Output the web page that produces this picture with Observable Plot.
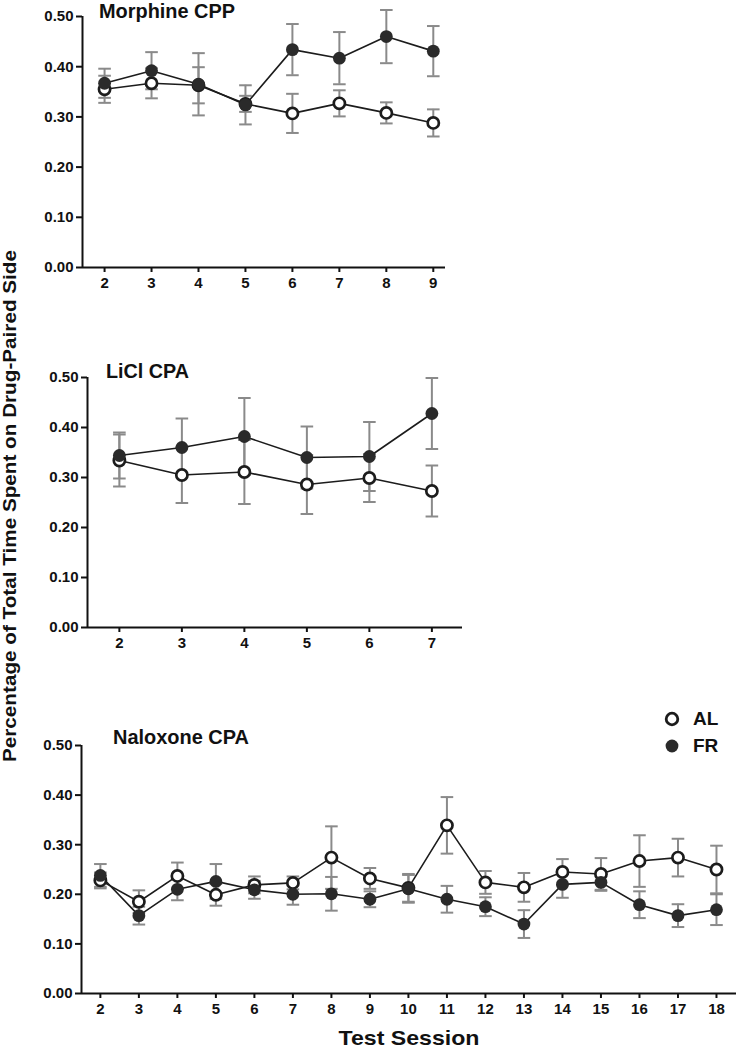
<!DOCTYPE html>
<html>
<head>
<meta charset="utf-8">
<script src="https://cdn.jsdelivr.net/npm/d3@7"></script>
<script src="https://cdn.jsdelivr.net/npm/@observablehq/plot@0.6"></script>
<style>
  html, body { margin: 0; padding: 0; background: #fff; }
  #wrap { position: relative; width: 737px; height: 1050px; overflow: hidden; font-family: "Liberation Sans", Arial, Helvetica, sans-serif; font-weight: bold; color: #111; }
  .panel { position: absolute; left: 0; }
</style>
</head>
<body>
<div id="wrap"></div>
<script>
// ---------------- data ----------------
const morphSessions = [2, 3, 4, 5, 6, 7, 8, 9];
const morphAL    = [0.355, 0.367, 0.363, 0.326, 0.307, 0.327, 0.308, 0.288];
const morphALsem = [0.027, 0.030, 0.036, 0.016, 0.039, 0.026, 0.021, 0.027];
const morphFR    = [0.367, 0.392, 0.365, 0.324, 0.434, 0.417, 0.460, 0.431];
const morphFRsem = [0.029, 0.037, 0.062, 0.039, 0.051, 0.052, 0.053, 0.050];

const liclSessions = [2, 3, 4, 5, 6, 7];
const liclAL    = [0.334, 0.305, 0.311, 0.286, 0.299, 0.273];
const liclALsem = [0.052, 0.056, 0.064, 0.059, 0.048, 0.051];
const liclFR    = [0.344, 0.360, 0.382, 0.340, 0.342, 0.428];
const liclFRsem = [0.046, 0.058, 0.077, 0.062, 0.069, 0.071];

const naloxSessions = [2, 3, 4, 5, 6, 7, 8, 9, 10, 11, 12, 13, 14, 15, 16, 17, 18];
const naloxAL    = [0.228, 0.185, 0.237, 0.199, 0.219, 0.223, 0.274, 0.232, 0.213, 0.339, 0.224, 0.214, 0.245, 0.241, 0.267, 0.274, 0.250];
const naloxALsem = [0.016, 0.023, 0.027, 0.022, 0.017, 0.013, 0.063, 0.021, 0.028, 0.057, 0.023, 0.029, 0.026, 0.032, 0.052, 0.038, 0.048];
const naloxFR    = [0.238, 0.157, 0.210, 0.226, 0.209, 0.200, 0.201, 0.190, 0.211, 0.190, 0.175, 0.140, 0.220, 0.224, 0.179, 0.157, 0.169];
const naloxFRsem = [0.023, 0.018, 0.022, 0.035, 0.018, 0.021, 0.034, 0.016, 0.028, 0.027, 0.019, 0.028, 0.027, 0.017, 0.027, 0.023, 0.031];

const yTicks = [0, 0.1, 0.2, 0.3, 0.4, 0.5];
const panelTitles = ["Morphine CPP", "LiCl CPA", "Naloxone CPA"];
const groups = ["AL", "FR"];
const yAxisTitle = "Percentage of Total Time Spent on Drug-Paired Side";
const xAxisTitle = "Test Session";

// ---------------- styling ----------------
const FONT = '"Liberation Sans", Arial, Helvetica, sans-serif';
const INK = "#1c1c1c";
const ERR = "#8a8a8a";
const capSymbol = {
  draw(ctx, size) {
    const w = Math.sqrt(size / Math.PI);
    ctx.moveTo(-w, 0);
    ctx.lineTo(w, 0);
  }
};

function rows(sessions, vals, sems) {
  return sessions.map((s, i) => ({ s, v: vals[i], e: sems[i] }));
}

function panel(cfg) {
  const al = rows(cfg.sessions, cfg.al, cfg.alSem);
  const fr = rows(cfg.sessions, cfg.fr, cfg.frSem);
  const errMarks = (data) => [
    Plot.ruleX(data, { x: "s", y1: d => d.v - d.e, y2: d => d.v + d.e, stroke: ERR, strokeWidth: 2 }),
    Plot.dot(data, { x: "s", y: d => d.v + d.e, symbol: capSymbol, r: 6.3, stroke: ERR, strokeWidth: 2, fill: "none" }),
    Plot.dot(data, { x: "s", y: d => d.v - d.e, symbol: capSymbol, r: 6.3, stroke: ERR, strokeWidth: 2, fill: "none" })
  ];
  return Plot.plot({
    width: cfg.width,
    height: cfg.height,
    marginLeft: cfg.ml,
    marginRight: cfg.mr,
    marginTop: cfg.mt,
    marginBottom: cfg.mb,
    style: { fontFamily: FONT, fontSize: "15px", fontWeight: "bold", color: "#111", background: "transparent", overflow: "visible" },
    x: { domain: cfg.xDomain },
    y: { domain: [0, 0.5] },
    marks: [
      ...errMarks(fr),
      ...errMarks(al),
      Plot.line(al, { x: "s", y: "v", stroke: INK, strokeWidth: 1.6 }),
      Plot.line(fr, { x: "s", y: "v", stroke: INK, strokeWidth: 1.6 }),
      Plot.dot(al, { x: "s", y: "v", r: 5.6, fill: "#fff", stroke: INK, strokeWidth: 2.7 }),
      Plot.dot(fr, { x: "s", y: "v", r: 6.4, fill: "#2a2a2a", stroke: "none" }),
      Plot.axisY({ ticks: yTicks, tickFormat: d3.format(".2f"), tickSize: 6, strokeWidth: 2, tickPadding: 3, label: null }),
      Plot.axisX({ ticks: cfg.sessions, tickFormat: d3.format("d"), tickSize: 5, strokeWidth: 2, tickPadding: 5, label: null }),
      Plot.ruleY([0], { stroke: "#111", strokeWidth: 2 }),
      Plot.ruleX([cfg.xDomain[0]], { stroke: "#111", strokeWidth: 2 })
    ]
  });
}

const wrap = document.getElementById("wrap");
function place(el, top) {
  el.classList.add("panel");
  el.style.top = top + "px";
  wrap.appendChild(el);
}

place(panel({ sessions: morphSessions, al: morphAL, alSem: morphALsem, fr: morphFR, frSem: morphFRsem,
  xDomain: [1.53, 9.26], width: 460, height: 297, ml: 82, mr: 15, mt: 16, mb: 30 }), 0);
place(panel({ sessions: liclSessions, al: liclAL, alSem: liclALsem, fr: liclFR, frSem: liclFRsem,
  xDomain: [1.49, 7.49], width: 480, height: 297, ml: 87, mr: 18, mt: 17, mb: 30 }), 360);
place(panel({ sessions: naloxSessions, al: naloxAL, alSem: naloxALsem, fr: naloxFR, frSem: naloxFRsem,
  xDomain: [1.51, 18.52], width: 737, height: 296, ml: 81, mr: 1, mt: 20, mb: 28 }), 725);

// ---------------- text overlay (titles, axis titles, legend) ----------------
const NS = "http://www.w3.org/2000/svg";
const ov = document.createElementNS(NS, "svg");
ov.setAttribute("width", 737);
ov.setAttribute("height", 1050);
ov.style.position = "absolute";
ov.style.left = "0px";
ov.style.top = "0px";
ov.style.pointerEvents = "none";
ov.setAttribute("font-family", FONT);
ov.setAttribute("font-weight", "bold");
ov.setAttribute("fill", "#111");

function addText(str, attrs) {
  const t = document.createElementNS(NS, "text");
  for (const k in attrs) t.setAttribute(k, attrs[k]);
  t.textContent = str;
  ov.appendChild(t);
  return t;
}

// panel titles: [x, baseline, length]
const titleGeom = [[99, 18, 136], [106, 378, 83], [113, 744, 136]];
panelTitles.forEach((t, i) => {
  const [x, y, len] = titleGeom[i];
  addText(t, { x, y, "font-size": 19.5, textLength: len, lengthAdjust: "spacingAndGlyphs" });
});

// y axis title (rotated)
addText(yAxisTitle, { transform: "translate(15.5,506) rotate(-90)", "text-anchor": "middle", "font-size": 18, textLength: 512, lengthAdjust: "spacingAndGlyphs" });

// x axis title
addText(xAxisTitle, { x: 409, y: 1045, "text-anchor": "middle", "font-size": 21, textLength: 141, lengthAdjust: "spacingAndGlyphs" });

// legend
const c1 = document.createElementNS(NS, "circle");
c1.setAttribute("cx", 672); c1.setAttribute("cy", 719); c1.setAttribute("r", 5.8);
c1.setAttribute("fill", "#fff"); c1.setAttribute("stroke", INK); c1.setAttribute("stroke-width", 2.8);
ov.appendChild(c1);
const c2 = document.createElementNS(NS, "circle");
c2.setAttribute("cx", 672); c2.setAttribute("cy", 746); c2.setAttribute("r", 6.4);
c2.setAttribute("fill", "#2a2a2a");
ov.appendChild(c2);
addText(groups[0], { x: 693, y: 725, "font-size": 19 });
addText(groups[1], { x: 693, y: 752, "font-size": 19 });

wrap.appendChild(ov);
</script>
</body>
</html>
